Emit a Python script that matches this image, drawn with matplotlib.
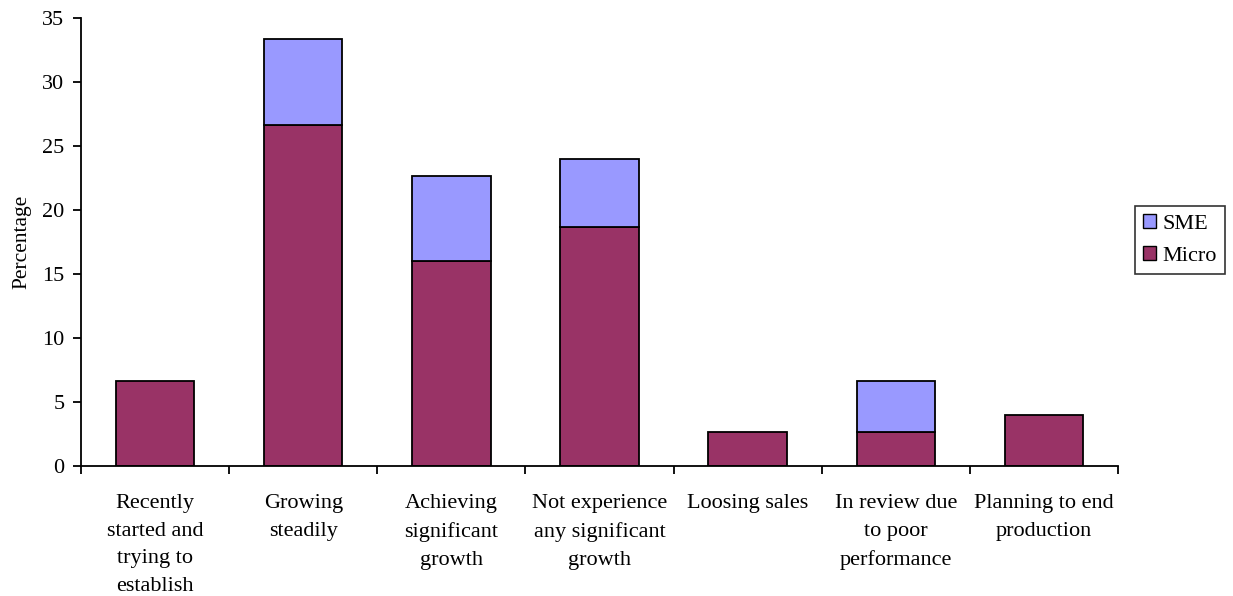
import matplotlib
matplotlib.use("Agg")
import matplotlib.pyplot as plt
from matplotlib.patches import Patch

plt.rcParams['font.family'] = ['Liberation Serif', 'DejaVu Serif']

categories = [
    "Recently\nstarted and\ntrying to\nestablish",
    "Growing\nsteadily",
    "Achieving\nsignificant\ngrowth",
    "Not experience\nany significant\ngrowth",
    "Loosing sales",
    "In review due\nto poor\nperformance",
    "Planning to end\nproduction",
]
micro = [6.67, 26.67, 16.0, 18.67, 2.67, 2.67, 4.0]
sme = [0.0, 6.67, 6.67, 5.33, 0.0, 4.0, 0.0]

MICRO_COLOR = "#993366"
SME_COLOR = "#9999FF"

fig = plt.figure(figsize=(12.33, 5.96), dpi=100)
ax = fig.add_axes([0.0657, 0.2181, 0.8410, 0.7517])

x = list(range(len(categories)))
w = 0.53
ax.bar(x, micro, width=w, color=MICRO_COLOR, edgecolor="black", linewidth=1.3)
for xi, m, s in zip(x, micro, sme):
    if s > 0:
        ax.bar(xi, s, bottom=m, width=w, color=SME_COLOR, edgecolor="black", linewidth=1.3)

ax.set_xlim(-0.5, len(categories) - 0.5)
ax.set_ylim(0, 35)
ax.set_yticks(range(0, 36, 5))
ax.set_xticks([i - 0.5 for i in range(len(categories) + 1)])
ax.set_xticklabels([])
ax.set_xticks(x, minor=True)
ax.set_xticklabels(categories, minor=True, fontsize=16, linespacing=1.63)
ax.tick_params(axis="x", which="minor", length=0, pad=20)
ax.tick_params(axis="x", which="major", length=6, width=1.3, direction="out")
ax.tick_params(axis="y", length=6, width=1.3, direction="out", labelsize=16, pad=6)
for lab in ax.get_xticklabels(minor=True):
    lab.set_verticalalignment("top")

for side in ("top", "right"):
    ax.spines[side].set_visible(False)
for side in ("left", "bottom"):
    ax.spines[side].set_linewidth(1.3)

ax.set_ylabel("Percentage", fontsize=15.5, labelpad=8)

handles = [Patch(facecolor=SME_COLOR, edgecolor="black", label="SME"),
           Patch(facecolor=MICRO_COLOR, edgecolor="black", label="Micro")]
leg = fig.legend(handles=handles, loc="center left", bbox_to_anchor=(0.9205, 0.597),
                 fontsize=16, frameon=True, fancybox=False, edgecolor="black",
                 handlelength=0.6, handleheight=0.6, handletextpad=0.3,
                 borderpad=0.35, labelspacing=0.55, borderaxespad=0)
leg.get_frame().set_linewidth(1.2)

fig.savefig("out.png", dpi=100)
